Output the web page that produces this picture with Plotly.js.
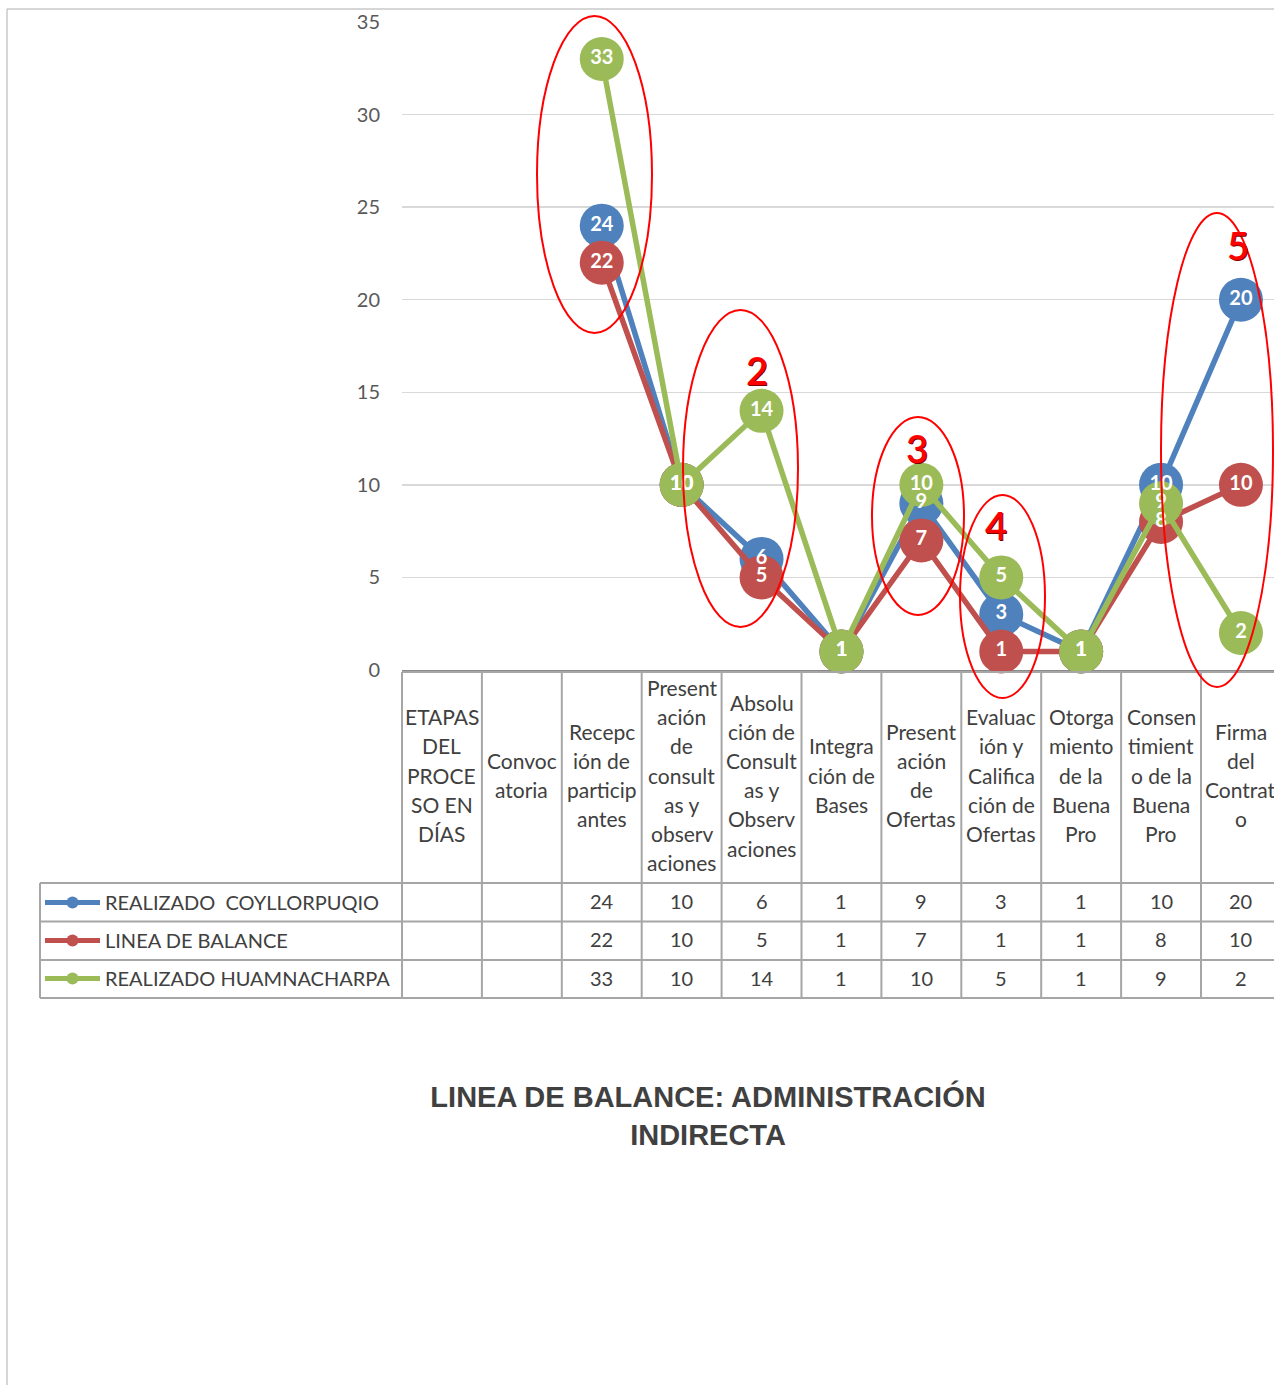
<!DOCTYPE html>
<html><head><meta charset="utf-8">
<script src="https://cdn.plot.ly/plotly-3.0.1.min.js"></script>
<style>html,body{margin:0;padding:0;background:#fff;}#chart{width:1274px;height:1385px;}</style>
</head><body><div id="chart"></div>
<script>
// ---------- data ----------
const categories = [
  "ETAPAS DEL PROCESO EN DÍAS",
  "Convocatoria",
  "Recepción de participantes",
  "Presentación de consultas y observaciones",
  "Absolución de Consultas y Observaciones",
  "Integración de Bases",
  "Presentación de Ofertas",
  "Evaluación y Calificación de Ofertas",
  "Otorgamiento de la Buena Pro",
  "Consentimiento de la Buena Pro",
  "Firma del Contrato"
];
const headerLabels = [
  "ETAPAS|DEL|PROCE|SO EN|DÍAS",
  "Convoc|atoria",
  "Recepc|ión de|particip|antes",
  "Present|ación|de|consult|as y|observ|aciones",
  "Absolu|ción de|Consult|as y|Observ|aciones",
  "Integra|ción de|Bases",
  "Present|ación|de|Ofertas",
  "Evaluac|ión y|Califica|ción de|Ofertas",
  "Otorga|miento|de la|Buena|Pro",
  "Consen|timient|o de la|Buena|Pro",
  "Firma|del|Contrat|o"
];
const seriesNames = ["REALIZADO\u00a0 COYLLORPUQIO", "LINEA DE BALANCE", "REALIZADO HUAMNACHARPA"];
const coyllorpuqio = [null, null, 24, 10, 6, 1, 9, 3, 1, 10, 20];
const lineaBalance = [null, null, 22, 10, 5, 1, 7, 1, 1, 8, 10];
const huamnacharpa = [null, null, 33, 10, 14, 1, 10, 5, 1, 9, 2];
const yTicks = [0, 5, 10, 15, 20, 25, 30, 35];
const highlightLabels = ["2", "3", "4", "5"];
const titleText = "LINEA DE BALANCE: ADMINISTRACIÓN<br>INDIRECTA";

// ---------- styling / geometry ----------
const colors = ["#4F81BD", "#C0504D", "#9BBB59"];
const FONT = "Lato, 'Open Sans', sans-serif";
const W = 1274, H = 1385;
const plotL = 402, plotT = 22, plotB = 670;
const catStep = 79.9;
const span = (W - plotL) / catStep;        // visible categories across the plot width
const xRange = [-0.5, span - 0.5];
const xP = px => (px - plotL) / (W - plotL);   // pixel -> paper x
const yP = py => (plotB - py) / (plotB - plotT); // pixel -> paper y
const catP = idx => (idx + 0.5) / span;          // category index -> paper x

const allSeries = [coyllorpuqio, lineaBalance, huamnacharpa];

const traces = [];
allSeries.forEach((vals, k) => {
  traces.push({
    type: "scatter", mode: "lines+markers", x: categories, y: vals,
    name: seriesNames[k], legendgroup: "g" + k,
    line: { color: colors[k], width: 5.5 },
    marker: { color: colors[k], size: 44 },
    cliponaxis: false, hoverinfo: "skip"
  });
});
allSeries.forEach((vals, k) => {
  traces.push({
    type: "scatter", mode: "text", x: categories, y: vals,
    text: vals.map(v => v === null ? "" : String(v)),
    textposition: "middle center",
    textfont: { family: FONT, size: 20, color: "#ffffff", weight: "bold" },
    showlegend: false, cliponaxis: false, hoverinfo: "skip"
  });
});

// ---------- table & decorations ----------
const gridCol = "#a6a6a6";
const shapes = [];
const line = (x0, y0, x1, y1, color, width) => shapes.push({
  type: "line", xref: "paper", yref: "paper", x0, y0, x1, y1,
  line: { color, width }, layer: "above"
});
// outer frame (left + top)
line(xP(7), yP(9), xP(7), yP(1390), "#c8c8c8", 1.5);
line(xP(7), yP(9), 1.0, yP(9), "#c8c8c8", 1.5);
// table top
line(0, yP(672), 1, yP(672), gridCol, 2);
// column separators
for (let i = 0; i <= categories.length; i++) {
  const xp = i / span;
  if (xp <= 1.0) line(xp, yP(672), xp, yP(998), gridCol, 2);
}
// data row lines
[883, 921.5, 960, 998].forEach(py => line(xP(40), yP(py), 1, yP(py), gridCol, 2));
line(xP(40), yP(883), xP(40), yP(998), gridCol, 2);

// highlight ellipses
const ellipses = [
  [537, 16, 652, 333], [683, 310, 798, 627], [872, 417, 964, 615],
  [960, 495, 1045, 698], [1161, 213, 1273, 687]
];
ellipses.forEach(e => shapes.push({
  type: "circle", xref: "paper", yref: "paper",
  x0: xP(e[0]), y0: yP(e[1]), x1: xP(e[2]), y1: yP(e[3]),
  line: { color: "#ff0000", width: 2 }, layer: "above"
}));

const annotations = [];
// header texts
headerLabels.forEach((lbl, i) => {
  const parts = lbl.split("|");
  parts.forEach((t, j) => {
    annotations.push({
      xref: "paper", yref: "paper", x: catP(i), y: yP(775 + (j - (parts.length - 1) / 2) * 29.2),
      text: t, showarrow: false, xanchor: "center", yanchor: "middle",
      font: { family: FONT, size: 21, color: "#404040" }
    });
  });
});
// values in table
const rowCenters = [900.5, 939, 977.5];
allSeries.forEach((vals, k) => {
  vals.forEach((v, i) => {
    if (v === null) return;
    annotations.push({
      xref: "paper", yref: "paper", x: catP(i), y: yP(rowCenters[k]),
      text: String(v), showarrow: false, xanchor: "center", yanchor: "middle",
      font: { family: FONT, size: 20, color: "#404040" }
    });
  });
});
// highlight numbers
const hlPos = [[757, 370], [917, 448], [996, 525], [1238, 245]];
highlightLabels.forEach((t, i) => annotations.push({
  xref: "paper", yref: "paper", x: xP(hlPos[i][0]), y: yP(hlPos[i][1]),
  text: t, showarrow: false, xanchor: "center", yanchor: "middle",
  font: { family: FONT, size: 38, color: "#ff0000", weight: 600, shadow: "1px 1px 0px #800000" }
}));

const layout = {
  width: W, height: H,
  margin: { l: plotL, r: 0, t: plotT, b: H - plotB, pad: 0 },
  paper_bgcolor: "#ffffff", plot_bgcolor: "#ffffff",
  showlegend: true,
  legend: {
    x: xP(40), y: yP(883), xanchor: "left", yanchor: "top",
    font: { family: FONT, size: 20, color: "#404040" },
    traceorder: "grouped", tracegroupgap: 9, itemwidth: 55,
    bgcolor: "rgba(0,0,0,0)", itemsizing: "constant"
  },
  title: {
    text: "<b>" + titleText + "</b>",
    font: { family: "'Liberation Sans', Arial, sans-serif", size: 29, color: "#404040" },
    xref: "container", yref: "container", x: 708 / W, y: 1 - 1107 / H,
    xanchor: "center", yanchor: "middle"
  },
  xaxis: {
    type: "category", categoryarray: categories, range: xRange,
    showticklabels: false, showgrid: false, zeroline: false, ticks: "",
    showline: true, linecolor: "#8a8a8a", linewidth: 2, layer: "below traces", fixedrange: true
  },
  yaxis: {
    range: [0, 35], tickvals: yTicks, showgrid: true, gridcolor: "#d9d9d9", gridwidth: 1.5,
    zeroline: false, showline: false, ticks: "", ticklabelstandoff: 21,
    tickfont: { family: FONT, size: 20, color: "#595959" }, fixedrange: true
  },
  shapes, annotations
};

Plotly.newPlot("chart", traces, layout, { staticPlot: true, displayModeBar: false });
</script></body></html>
